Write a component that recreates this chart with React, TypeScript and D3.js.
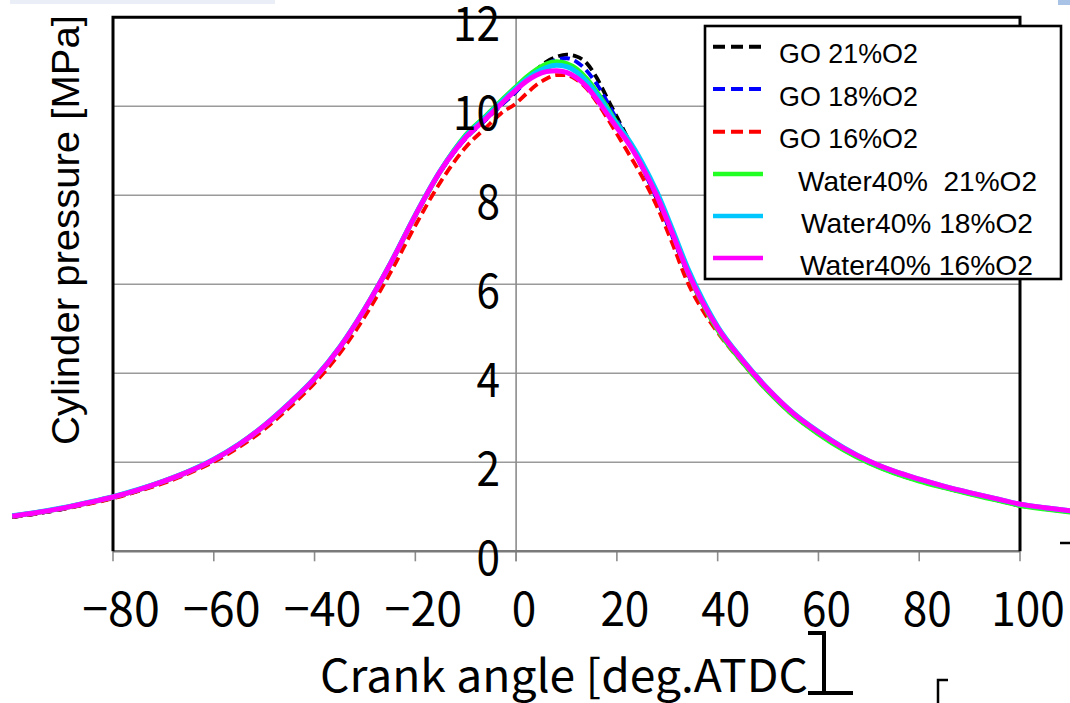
import React from 'react';
import * as d3 from 'd3';

// Crank angle [deg.ATDC]
const angles = [-100, -95, -90, -85, -80, -75, -70, -65, -60, -55, -50, -45, -40, -35, -30, -25, -20, -15, -10, -6, -3,
  0, 2, 4, 6, 8, 10, 12, 14, 16, 18, 20, 22, 25, 28, 31, 34, 37, 40, 45, 50, 55, 60, 65, 70, 75, 80, 85, 90, 95, 100, 105, 110];

// Cylinder pressure [MPa]
const go21 = [0.77, 0.85, 0.95, 1.07, 1.20, 1.36, 1.55, 1.77, 2.04, 2.38, 2.80, 3.30, 3.86, 4.56, 5.43, 6.43, 7.53, 8.53, 9.28, 9.70, 10.02,
  10.33, 10.58, 10.82, 11.00, 11.11, 11.16, 11.12, 10.97, 10.64, 10.20, 9.76, 9.32, 8.64, 7.90, 7.08, 6.25, 5.56, 4.98, 4.24, 3.60, 3.06, 2.64, 2.28, 1.99, 1.76, 1.58, 1.43, 1.29, 1.16, 1.03, 0.95, 0.88];
const go18 = [0.77, 0.85, 0.95, 1.07, 1.20, 1.36, 1.55, 1.77, 2.04, 2.38, 2.80, 3.30, 3.86, 4.56, 5.43, 6.43, 7.53, 8.53, 9.28, 9.70, 10.02,
  10.33, 10.56, 10.78, 10.95, 11.05, 11.08, 11.00, 10.80, 10.50, 10.12, 9.70, 9.28, 8.62, 7.90, 7.08, 6.26, 5.56, 4.98, 4.24, 3.60, 3.06, 2.64, 2.28, 1.99, 1.76, 1.58, 1.43, 1.29, 1.16, 1.03, 0.95, 0.88];
const go16 = [0.77, 0.85, 0.95, 1.06, 1.19, 1.35, 1.53, 1.75, 2.01, 2.34, 2.74, 3.23, 3.78, 4.45, 5.28, 6.25, 7.32, 8.30, 9.08, 9.52, 9.84,
  10.07, 10.28, 10.48, 10.62, 10.70, 10.70, 10.60, 10.40, 10.10, 9.75, 9.38, 9.00, 8.42, 7.74, 6.92, 6.05, 5.42, 4.92, 4.22, 3.59, 3.05, 2.64, 2.28, 1.99, 1.77, 1.59, 1.43, 1.29, 1.17, 1.04, 0.96, 0.89];
const water21 = [0.79, 0.87, 0.97, 1.09, 1.22, 1.38, 1.57, 1.79, 2.06, 2.40, 2.82, 3.32, 3.88, 4.58, 5.45, 6.45, 7.55, 8.55, 9.35, 9.78, 10.12,
  10.44, 10.65, 10.82, 10.95, 11.00, 10.96, 10.84, 10.62, 10.32, 9.98, 9.62, 9.28, 8.70, 8.02, 7.18, 6.30, 5.58, 4.98, 4.24, 3.60, 3.06, 2.64, 2.28, 1.99, 1.76, 1.58, 1.43, 1.29, 1.16, 1.03, 0.95, 0.88];
const water18 = [0.80, 0.88, 0.98, 1.10, 1.23, 1.39, 1.58, 1.80, 2.07, 2.41, 2.83, 3.33, 3.89, 4.59, 5.46, 6.46, 7.56, 8.56, 9.33, 9.76, 10.09,
  10.41, 10.60, 10.76, 10.87, 10.92, 10.89, 10.77, 10.56, 10.27, 9.94, 9.60, 9.30, 8.74, 8.06, 7.24, 6.38, 5.66, 5.05, 4.30, 3.65, 3.11, 2.69, 2.33, 2.03, 1.80, 1.62, 1.46, 1.32, 1.19, 1.06, 0.98, 0.91];
const water16 = [0.79, 0.87, 0.97, 1.09, 1.22, 1.38, 1.57, 1.79, 2.06, 2.40, 2.82, 3.32, 3.88, 4.58, 5.45, 6.45, 7.55, 8.55, 9.30, 9.72, 10.05,
  10.37, 10.56, 10.70, 10.78, 10.80, 10.76, 10.64, 10.44, 10.16, 9.84, 9.52, 9.22, 8.65, 7.97, 7.15, 6.30, 5.60, 5.02, 4.28, 3.64, 3.10, 2.68, 2.32, 2.03, 1.80, 1.62, 1.46, 1.32, 1.19, 1.06, 0.98, 0.91];

const seriesNames = ['GO 21%O2', 'GO 18%O2', 'GO 16%O2', 'Water40%  21%O2', 'Water40% 18%O2', 'Water40% 16%O2'];
const seriesValues = [go21, go18, go16, water21, water18, water16];
const seriesColors = ['#000000', '#0000FF', '#FF0000', '#22FF22', '#00C8FF', '#FF00FF'];
const seriesDashed = [true, true, true, false, false, false];

const xTicks = [-80, -60, -40, -20, 0, 20, 40, 60, 80, 100];
const yTicks = [0, 2, 4, 6, 8, 10, 12];

const xTitle = 'Crank angle [deg.ATDC';
const yTitle = 'Cylinder pressure [MPa]';

const TICK_FONT = "'Noto Sans CJK JP', 'Noto Sans', sans-serif";
const SANS = "'Liberation Sans', Arial, sans-serif";

export default function App() {
  const W = 1070, H = 703;
  const x = d3.scaleLinear().domain([-80, 100]).range([113, 1020]);
  const y = d3.scaleLinear().domain([0, 12]).range([551.3, 17.3]);
  const left = x(-80), right = x(100), top = y(12), bottom = y(0);

  const lineGen = d3.line<number>()
    .x((_, i) => x(angles[i]))
    .y((v) => y(v))
    .curve(d3.curveMonotoneX);

  const fmt = (t: number) => (t < 0 ? '\u2212' + Math.abs(t) : String(t));
  const xLabelLen = (t: number) => String(Math.abs(t)).length * 24.5 + (t < 0 ? 28.5 : 0);

  const legendX = 705, legendY = 26, legendW = 356, legendH = 253;
  const rowY = [46.7, 89, 131.7, 174, 216, 258];
  const textX = [779, 779, 779, 798, 801, 800];
  const textLen = [139, 139, 139, 239, 232, 233];

  return (
    <svg width={W} height={H} viewBox={`0 0 ${W} ${H}`}
      style={{ position: 'absolute', left: 0, top: 0, background: '#fff' }}>
      <rect x={0} y={0} width={W} height={H} fill="#fff" />
      {/* faint page artifacts */}
      <rect x={10} y={0} width={265} height={4} fill="#EAEFF7" />
      <rect x={1058} y={0} width={12} height={5} fill="#A9C3E6" />

      {/* gridlines */}
      {yTicks.filter((t) => t > 0 && t < 12).map((t) => (
        <line key={'g' + t} x1={left} x2={right} y1={y(t)} y2={y(t)} stroke="#9a9a9a" strokeWidth={1.6} />
      ))}
      {/* y axis at x=0 */}
      <line x1={x(0)} x2={x(0)} y1={top} y2={bottom + 10} stroke="#8c8c8c" strokeWidth={1.6} />
      {/* x ticks */}
      {xTicks.map((t) => (
        <line key={'xt' + t} x1={x(t)} x2={x(t)} y1={bottom} y2={bottom + 10} stroke="#8c8c8c" strokeWidth={1.6} />
      ))}
      {/* bottom axis */}
      <line x1={left} x2={right} y1={bottom} y2={bottom} stroke="#7a7a7a" strokeWidth={2.6} />
      {/* plot border */}
      <path d={`M${left},${bottom} L${left},${top} L${right},${top} L${right},${bottom}`} fill="none" stroke="#000" strokeWidth={3} />

      {/* series */}
      {seriesValues.map((vals, i) => (
        <path key={'s' + i} d={lineGen(vals) || ''} fill="none" stroke={seriesColors[i]}
          strokeWidth={seriesDashed[i] ? 3.8 : 5} strokeDasharray={seriesDashed[i] ? '10,5' : undefined}
          strokeLinejoin="round" />
      ))}

      {/* y tick labels */}
      {yTicks.map((t) => (
        <text key={'yl' + t} x={500} y={y(t) + 24} textAnchor="end" fontFamily={TICK_FONT} fontSize={47}
          textLength={String(t).length * 23.5} lengthAdjust="spacingAndGlyphs" fill="#000">{t}</text>
      ))}
      {/* x tick labels */}
      {xTicks.map((t) => (
        <text key={'xl' + t} x={x(t) + 8} y={626} textAnchor="middle" fontFamily={TICK_FONT} fontSize={47}
          textLength={xLabelLen(t)} lengthAdjust="spacingAndGlyphs" fill="#000">{fmt(t)}</text>
      ))}

      {/* axis titles */}
      <text x={320} y={692} fontFamily={TICK_FONT} fontSize={45} textLength={488} lengthAdjust="spacingAndGlyphs" fill="#000">{xTitle}</text>
      <path d="M808,633 L824,633 L824,693 M808,693 L853,693" fill="none" stroke="#000" strokeWidth={4} />
      <path d="M938,703 L938,680 L948,680" fill="none" stroke="#000" strokeWidth={2.5} />
      <line x1={1060} x2={1070} y1={543} y2={543} stroke="#000" strokeWidth={2.5} />
      <text transform="translate(79,230) rotate(-90)" textAnchor="middle" fontFamily={SANS} fontSize={38}
        textLength={430} lengthAdjust="spacingAndGlyphs" fill="#000">{yTitle}</text>

      {/* legend */}
      <rect x={legendX} y={legendY} width={legendW} height={legendH} fill="#fff" stroke="#000" strokeWidth={2.6} />
      {seriesNames.map((name, i) => (
        <g key={'lg' + i}>
          <line x1={713} x2={seriesDashed[i] ? 761 : 763} y1={rowY[i]} y2={rowY[i]} stroke={seriesColors[i]}
            strokeWidth={seriesDashed[i] ? 4 : 4.6} strokeDasharray={seriesDashed[i] ? '12,6' : undefined} />
          <text x={textX[i]} y={rowY[i] + 16.5} fontFamily={SANS} fontSize={27.5} textLength={textLen[i]}
            lengthAdjust="spacingAndGlyphs" style={{ whiteSpace: 'pre' }} fill="#000">{name}</text>
        </g>
      ))}
    </svg>
  );
}
